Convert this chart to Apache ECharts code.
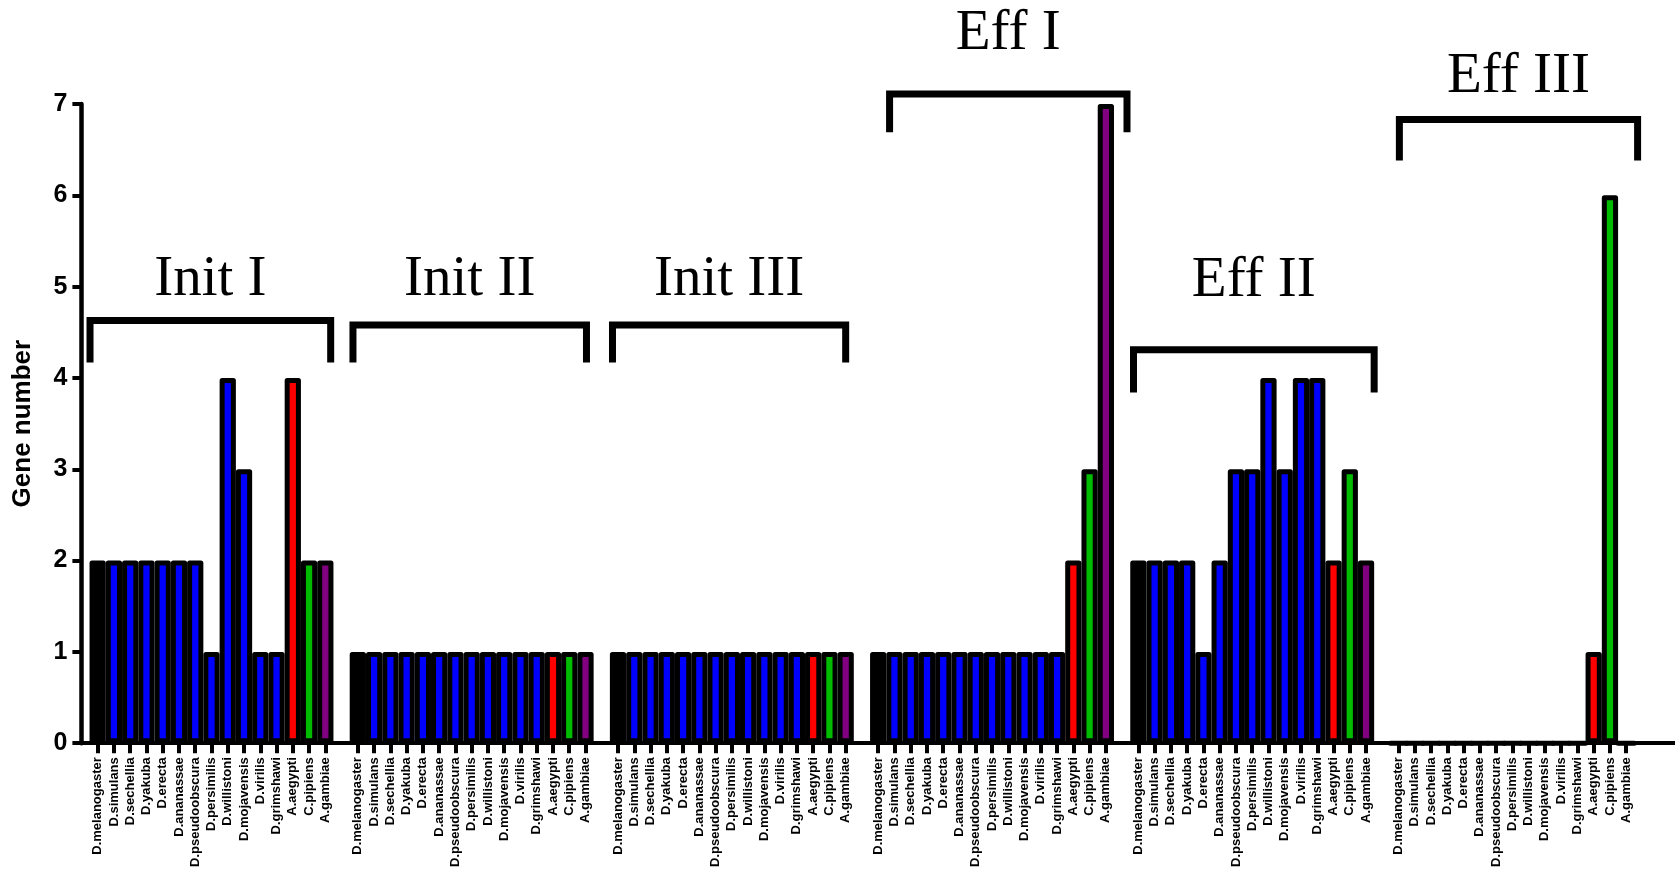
<!DOCTYPE html>
<html>
<head>
<meta charset="utf-8">
<title>Gene number per species</title>
<script src="https://cdn.jsdelivr.net/npm/echarts@6.0.0/dist/echarts.min.js"></script>
<style>
  html, body { margin: 0; padding: 0; background: #ffffff; }
  #chart { width: 1675px; height: 870px; }
</style>
</head>
<body>
<div id="chart"></div>
<script>
// Species shown in every group, in order
const species = [
  'D.melanogaster', 'D.simulans', 'D.sechellia', 'D.yakuba', 'D.erecta',
  'D.ananassae', 'D.pseudoobscura', 'D.persimilis', 'D.willistoni',
  'D.mojavensis', 'D.virilis', 'D.grimshawi', 'A.aegypti', 'C.pipiens', 'A.gambiae'
];
const speciesColors = [
  '#000000', '#0000ff', '#0000ff', '#0000ff', '#0000ff',
  '#0000ff', '#0000ff', '#0000ff', '#0000ff',
  '#0000ff', '#0000ff', '#0000ff', '#ff0000', '#00bb00', '#800080'
];

const groupNames = ['Init I', 'Init II', 'Init III', 'Eff I', 'Eff II', 'Eff III'];

// Gene numbers per species for each group
const initI   = [2, 2, 2, 2, 2, 2, 2, 1, 4, 3, 1, 1, 4, 2, 2];
const initII  = [1, 1, 1, 1, 1, 1, 1, 1, 1, 1, 1, 1, 1, 1, 1];
const initIII = [1, 1, 1, 1, 1, 1, 1, 1, 1, 1, 1, 1, 1, 1, 1];
const effI    = [1, 1, 1, 1, 1, 1, 1, 1, 1, 1, 1, 1, 2, 3, 7];
const effII   = [2, 2, 2, 2, 1, 2, 3, 3, 4, 3, 4, 4, 2, 3, 2];
const effIII  = [0, 0, 0, 0, 0, 0, 0, 0, 0, 0, 0, 0, 1, 6, 0];
const groupValues = [initI, initII, initIII, effI, effII, effIII];

// Bracket annotations: span in category units, heights in gene-number units
const bracketFrom    = [0.53, 16.70, 32.66, 49.70, 64.70, 81.05];
const bracketTo      = [15.33, 31.06, 47.00, 64.30, 79.50, 95.70];
const bracketLine    = [4.63, 4.58, 4.58, 7.11, 4.31, 6.83];
const bracketLegEnd  = [4.17, 4.17, 4.17, 6.69, 3.84, 6.38];
const titleLevel     = [5.07, 5.07, 5.07, 7.77, 5.06, 7.30];

// Build the category list: a blank slot before, between and after the groups
const categories = [''];
const barData = ['-'];
groupValues.forEach(function (vals) {
  vals.forEach(function (v, k) {
    categories.push(species[k]);
    barData.push({ value: v, itemStyle: { color: speciesColors[k] } });
  });
  categories.push('');
  barData.push('-');
});
categories.push('', '');
barData.push('-', '-');

const chart = echarts.init(document.getElementById('chart'), null, { renderer: 'canvas' });

chart.setOption({
  animation: false,
  backgroundColor: '#ffffff',
  grid: { left: 81.4, top: 104, bottom: 126, width: 1595.4 },
  xAxis: {
    type: 'category',
    data: categories,
    boundaryGap: false,
    axisLine: { show: true, lineStyle: { color: '#000', width: 4 } },
    axisTick: {
      show: true,
      length: 10,
      interval: function (index, value) { return value !== ''; },
      lineStyle: { color: '#000', width: 4 }
    },
    axisLabel: {
      interval: 0,
      rotate: 90,
      margin: 14,
      color: '#000',
      fontFamily: '"Liberation Sans", Arial, sans-serif',
      fontWeight: 'bold',
      fontSize: 13
    },
    splitLine: { show: false }
  },
  yAxis: {
    type: 'value',
    min: 0,
    max: 7,
    interval: 1,
    name: 'Gene number',
    nameLocation: 'middle',
    nameGap: 46,
    nameTextStyle: {
      color: '#000',
      fontFamily: '"Liberation Sans", Arial, sans-serif',
      fontWeight: 'bold',
      fontSize: 26
    },
    axisLine: { show: true, lineStyle: { color: '#000', width: 4.5 } },
    axisTick: { show: true, length: 9, lineStyle: { color: '#000', width: 4 } },
    axisLabel: {
      margin: 14,
      color: '#000',
      fontFamily: '"Liberation Sans", Arial, sans-serif',
      fontWeight: 'bold',
      fontSize: 25
    },
    splitLine: { show: false }
  },
  series: [
    {
      type: 'bar',
      data: barData,
      barCategoryGap: '0%',
      clip: false,
      itemStyle: {
        borderColor: '#000',
        borderWidth: 5,
        borderJoin: 'round'
      },
      silent: true
    },
    {
      type: 'custom',
      silent: true,
      clip: false,
      z: 5,
      data: groupNames.map(function (n, i) { return [i, 0]; }),
      renderItem: function (params, api) {
        const i = params.dataIndex;
        const p0 = api.coord([0, 0]);
        const p1 = api.coord([1, 0]);
        const step = p1[0] - p0[0];
        const xAt = function (u) { return p0[0] + u * step; };
        const yAt = function (v) { return api.coord([0, v])[1]; };
        const xl = xAt(bracketFrom[i]);
        const xr = xAt(bracketTo[i]);
        const yLine = yAt(bracketLine[i]);
        const yLeg = yAt(bracketLegEnd[i]);
        return {
          type: 'group',
          children: [
            {
              type: 'polyline',
              shape: { points: [[xl, yLeg], [xl, yLine], [xr, yLine], [xr, yLeg]] },
              style: { stroke: '#000', lineWidth: 7, fill: null, lineJoin: 'miter', lineCap: 'butt' }
            },
            {
              type: 'text',
              style: {
                text: groupNames[i],
                x: (xl + xr) / 2,
                y: yAt(titleLevel[i]),
                align: 'center',
                verticalAlign: 'middle',
                textAlign: 'center',
                textVerticalAlign: 'middle',
                fontFamily: '"Liberation Serif", "Times New Roman", serif',
                fontSize: 57,
                fill: '#000'
              }
            }
          ]
        };
      }
    }
  ]
});
</script>
</body>
</html>
